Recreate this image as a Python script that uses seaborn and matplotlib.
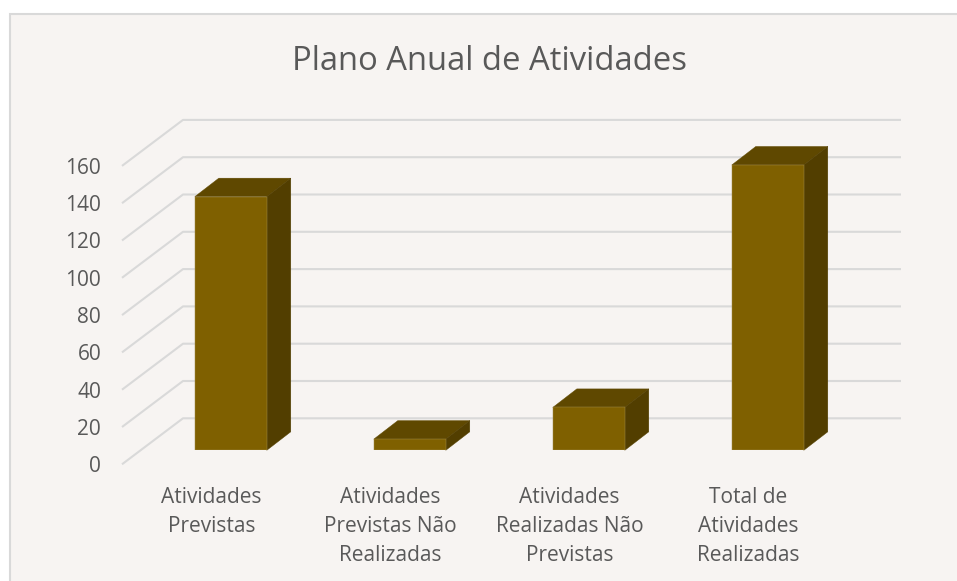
import matplotlib
matplotlib.use("Agg")
import matplotlib.pyplot as plt
from matplotlib.patches import Polygon, Rectangle
import seaborn as sns

categories = ["Atividades\nPrevistas", "Atividades\nPrevistas Não\nRealizadas",
              "Atividades\nRealizadas Não\nPrevistas", "Total de\nAtividades\nRealizadas"]
values = [136, 6, 23, 153]
y_ticks = [0, 20, 40, 60, 80, 100, 120, 140, 160]
title = "Plano Anual de Atividades"

W, H = 957, 581
FRONT, TOP, SIDE, EDGE = "#7f6000", "#5f4800", "#523e00", "#a08a4a"
GRID, TEXT, BG, BORDER = "#d9d9d9", "#595959", "#f7f4f2", "#d9d9d9"

sns.set_theme(style="white")
plt.rcParams["font.family"] = ["Open Sans", "DejaVu Sans"]

fig = plt.figure(figsize=(W / 100, H / 100), dpi=100, facecolor="white")
fig.add_artist(Rectangle((9.5 / W, -0.02), 1.02, 1.02 - 14 / H, transform=fig.transFigure,
                         facecolor=BG, edgecolor=BORDER, linewidth=1.5, zorder=-5))


def px_axes(left, right, top, bottom):
    return fig.add_axes([left / W, 1 - bottom / H, (right - left) / W, (bottom - top) / H])


# Front plane of the 3-D box: holds the axes' ticks and the gridlines
slot = 179.0
ax = px_axes(122, 122 + 4 * slot, 165.9, 464.3)
ax.patch.set_alpha(0)
ax.set_xlim(-0.5, 3.5)
ax.set_ylim(0, 160)
sns.despine(ax=ax, left=True, bottom=True, top=True, right=True)
wall_dx, wall_dy = 61 / slot, 46 / 1.865
for v in y_ticks:
    ax.plot([-0.5, -0.5 + wall_dx, 3.5 + wall_dx + 2 / slot], [v, v + wall_dy, v + wall_dy],
            color=GRID, lw=1.5, clip_on=False, solid_capstyle="butt", zorder=1)
ax.set_yticks(y_ticks)
ax.set_yticklabels([str(v) for v in y_ticks])
ax.set_xticks(range(len(categories)))
ax.set_xticklabels(categories, linespacing=1.5)
ax.tick_params(axis="y", length=0, pad=15, labelsize=15, labelcolor=TEXT)
ax.tick_params(axis="x", length=0, pad=16.5, labelsize=15, labelcolor=TEXT)

# Bars stand part-way into the box
off_x, off_y = 19.3, 14
ax_b = px_axes(122 + off_x, 122 + 4 * slot + off_x, 165.9 - off_y, 464.3 - off_y)
ax_b.patch.set_alpha(0)
sns.barplot(x=categories, y=values, ax=ax_b, color=FRONT, saturation=1, width=72 / slot,
            edgecolor=EDGE, linewidth=0.35, zorder=3)
ax_b.set_xlim(-0.5, 3.5)
ax_b.set_ylim(0, 160)
ax_b.axis("off")

depth_x, depth_y = 24 / slot, 18.5 / 1.865
for bar in ax_b.patches[:len(values)]:
    x0, x1 = bar.get_x(), bar.get_x() + bar.get_width()
    h = bar.get_height()
    ax_b.add_patch(Polygon([(x0, h), (x1, h), (x1 + depth_x, h + depth_y), (x0 + depth_x, h + depth_y)],
                           facecolor=TOP, edgecolor=TOP, linewidth=0.3, clip_on=False, zorder=2))
    ax_b.add_patch(Polygon([(x1, 0), (x1 + depth_x, depth_y), (x1 + depth_x, h + depth_y), (x1, h)],
                           facecolor=SIDE, edgecolor=SIDE, linewidth=0.3, clip_on=False, zorder=2))

fig.text(490 / W, 1 - 61 / H, title, ha="center", va="center", fontsize=23.6, color=TEXT)
fig.savefig("out.png", dpi=100, facecolor=fig.get_facecolor())
